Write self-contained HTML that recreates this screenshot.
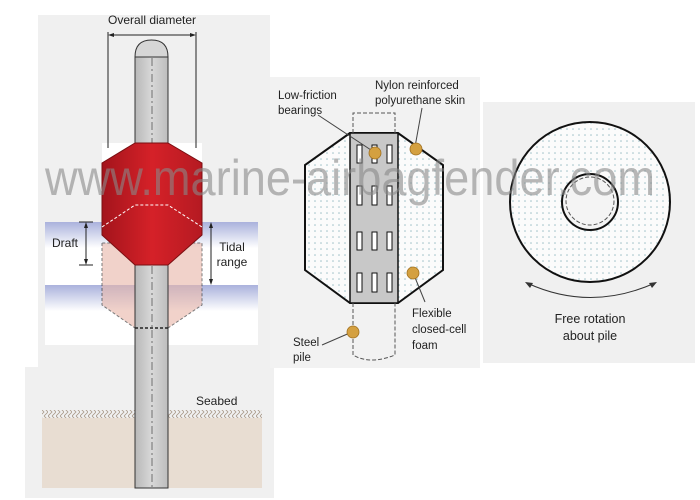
<!DOCTYPE html>
<html><head><meta charset="utf-8"><style>
html,body{margin:0;padding:0;background:#fff;}
svg{display:block;font-family:"Liberation Sans",sans-serif;}
</style></head><body>
<svg width="700" height="500" viewBox="0 0 700 500" xmlns="http://www.w3.org/2000/svg">
<defs>
<linearGradient id="water" x1="0" y1="0" x2="0" y2="1">
<stop offset="0" stop-color="#aab2dc"/><stop offset="1" stop-color="#ffffff"/>
</linearGradient>
<linearGradient id="red" x1="0" y1="0" x2="1" y2="0">
<stop offset="0" stop-color="#a3141c"/><stop offset="0.5" stop-color="#d52128"/><stop offset="1" stop-color="#b51a22"/>
</linearGradient>
<linearGradient id="pile" x1="0" y1="0" x2="1" y2="0">
<stop offset="0" stop-color="#b8b8b8"/><stop offset="0.5" stop-color="#d8d8d8"/><stop offset="1" stop-color="#bdbdbd"/>
</linearGradient>
<pattern id="dots" width="6" height="6" patternUnits="userSpaceOnUse">
<rect width="6" height="6" fill="#fbfbfb"/><circle cx="3" cy="3" r="0.8" fill="#9fc0c8"/>
</pattern>
<pattern id="hatch" width="8" height="8" patternUnits="userSpaceOnUse">
<path d="M0 0 L4 4 L0 8 M4 0 L8 4 L4 8" stroke="#a89888" stroke-width="0.8" fill="none"/>
</pattern>
</defs>
<rect width="700" height="500" fill="#fff"/>
<!-- left panel -->
<rect x="38" y="15" width="232" height="352" fill="#f0f0f0"/>
<rect x="25" y="367" width="249" height="131" fill="#f0f0f0"/>
<rect x="102" y="143" width="100" height="80" fill="#fff"/>
<rect x="45" y="222" width="213" height="123" fill="#fff"/>
<rect x="45" y="222" width="213" height="26" fill="url(#water)"/>
<rect x="45" y="285" width="213" height="26" fill="url(#water)"/>
<rect x="42" y="418" width="220" height="70" fill="#e8ddd2"/>
<rect x="42" y="410" width="220" height="8" fill="url(#hatch)"/>
<!-- pink lower ghost -->
<path d="M102 243 L102 305 L135 328 L168 328 L202 305 L202 243 Z" fill="#e8b5a8" opacity="0.6" stroke="#222" stroke-width="1" stroke-dasharray="3,2"/>
<!-- pile -->
<path d="M135 57 L135 488 L168 488 L168 57 Z" fill="url(#pile)" stroke="#333" stroke-width="1"/>
<path d="M135 57 Q135 40 151.5 40 Q168 40 168 57 Z" fill="#d6d6d6" stroke="#333" stroke-width="1"/>
<line x1="152" y1="58" x2="152" y2="488" stroke="#555" stroke-width="0.8" stroke-dasharray="8,3,2,3"/>
<!-- red body -->
<path d="M135 143 L168 143 L202 163 L202 235 L168 265 L135 265 L102 235 L102 163 Z" fill="url(#red)" stroke="#7a0f12" stroke-width="1"/>
<path d="M102 227 L135 205 L168 205 L202 227" fill="none" stroke="#fff" stroke-width="1" stroke-dasharray="3,2"/>
<line x1="135" y1="328" x2="168" y2="328" stroke="#222" stroke-width="1.5" stroke-dasharray="3,2"/>
<!-- dims -->
<g stroke="#222" stroke-width="1" fill="none">
<line x1="108" y1="32" x2="108" y2="148"/><line x1="196" y1="32" x2="196" y2="148"/>
<line x1="110" y1="35" x2="194" y2="35"/>
<line x1="79" y1="222" x2="93" y2="222"/><line x1="79" y1="265" x2="93" y2="265"/>
<line x1="86" y1="224" x2="86" y2="263"/>
<line x1="211" y1="224" x2="211" y2="283"/>
</g>
<g fill="#222">
<path d="M108 35 L114 33 L114 37Z"/><path d="M196 35 L190 33 L190 37Z"/>
<path d="M86 222 L84 228 L88 228Z"/><path d="M86 265 L84 259 L88 259Z"/>
<path d="M211 222 L209 228 L213 228Z"/><path d="M211 285 L209 279 L213 279Z"/>
</g>
<g font-size="12" fill="#222">
<text x="152" y="24" text-anchor="middle">Overall diameter</text>
<text x="52" y="247">Draft</text>
<text x="232" y="251" text-anchor="middle">Tidal</text>
<text x="232" y="266" text-anchor="middle">range</text>
<text x="196" y="405">Seabed</text>
</g>
<!-- middle panel -->
<rect x="270" y="77" width="210" height="291" fill="#f2f2f2"/>
<path d="M350 133 L305 165 L305 270 L350 303 L398 303 L443 270 L443 165 L398 133 Z" fill="url(#dots)" stroke="#111" stroke-width="2"/>
<rect x="350" y="133" width="48" height="170" fill="#c8c8c8" stroke="#111" stroke-width="1.5"/>
<path d="M353 303 L353 355 Q370 365 395 355 L395 303 M353 133 L353 113 L395 113 L395 133" fill="none" stroke="#555" stroke-width="1" stroke-dasharray="4,2"/>
<g fill="#fff" stroke="#111" stroke-width="1">
<rect x="357" y="145" width="5" height="18"/><rect x="372" y="145" width="5" height="18"/><rect x="387" y="145" width="5" height="18"/>
<rect x="357" y="186" width="5" height="19"/><rect x="372" y="186" width="5" height="19"/><rect x="387" y="186" width="5" height="19"/>
<rect x="357" y="232" width="5" height="18"/><rect x="372" y="232" width="5" height="18"/><rect x="387" y="232" width="5" height="18"/>
<rect x="357" y="273" width="5" height="19"/><rect x="372" y="273" width="5" height="19"/><rect x="387" y="273" width="5" height="19"/>
</g>
<g stroke="#444" stroke-width="1">
<line x1="318" y1="115" x2="374" y2="152"/><line x1="422" y1="108" x2="415" y2="147"/>
<line x1="414" y1="275" x2="425" y2="302"/><line x1="322" y1="345" x2="352" y2="332"/>
</g>
<g fill="#d4a040" stroke="#a07020" stroke-width="0.8">
<circle cx="375" cy="153" r="6"/><circle cx="416" cy="149" r="6"/><circle cx="413" cy="273" r="6"/><circle cx="353" cy="332" r="6"/>
</g>
<g font-size="11.5" fill="#222">
<text x="278" y="99">Low-friction</text><text x="278" y="114">bearings</text>
<text x="375" y="89">Nylon reinforced</text><text x="375" y="104">polyurethane skin</text>
<text x="412" y="317">Flexible</text><text x="412" y="333">closed-cell</text><text x="412" y="349">foam</text>
<text x="293" y="346">Steel</text><text x="293" y="361">pile</text>
</g>
<!-- right panel -->
<rect x="483" y="102" width="212" height="261" fill="#f0f0f0"/>
<circle cx="590" cy="202" r="80" fill="url(#dots)" stroke="#111" stroke-width="2"/>
<circle cx="590" cy="202" r="28" fill="#f4f4f4" stroke="#111" stroke-width="2"/>
<circle cx="590" cy="201" r="24" fill="none" stroke="#555" stroke-width="1" stroke-dasharray="4,2"/>
<path d="M527 283 Q590 312 655 283" fill="none" stroke="#333" stroke-width="1"/>
<path d="M525 282 L533 283 L530 288Z M657 282 L649 283 L652 288Z" fill="#333"/>
<g font-size="12.5" fill="#222" text-anchor="middle">
<text x="590" y="323">Free rotation</text><text x="590" y="340">about pile</text>
</g>
<!-- watermark -->
<text x="45" y="195" font-size="50" fill="#888" fill-opacity="0.6" textLength="610" lengthAdjust="spacingAndGlyphs">www.marine-airbagfender.com</text>
</svg>
</body></html>
